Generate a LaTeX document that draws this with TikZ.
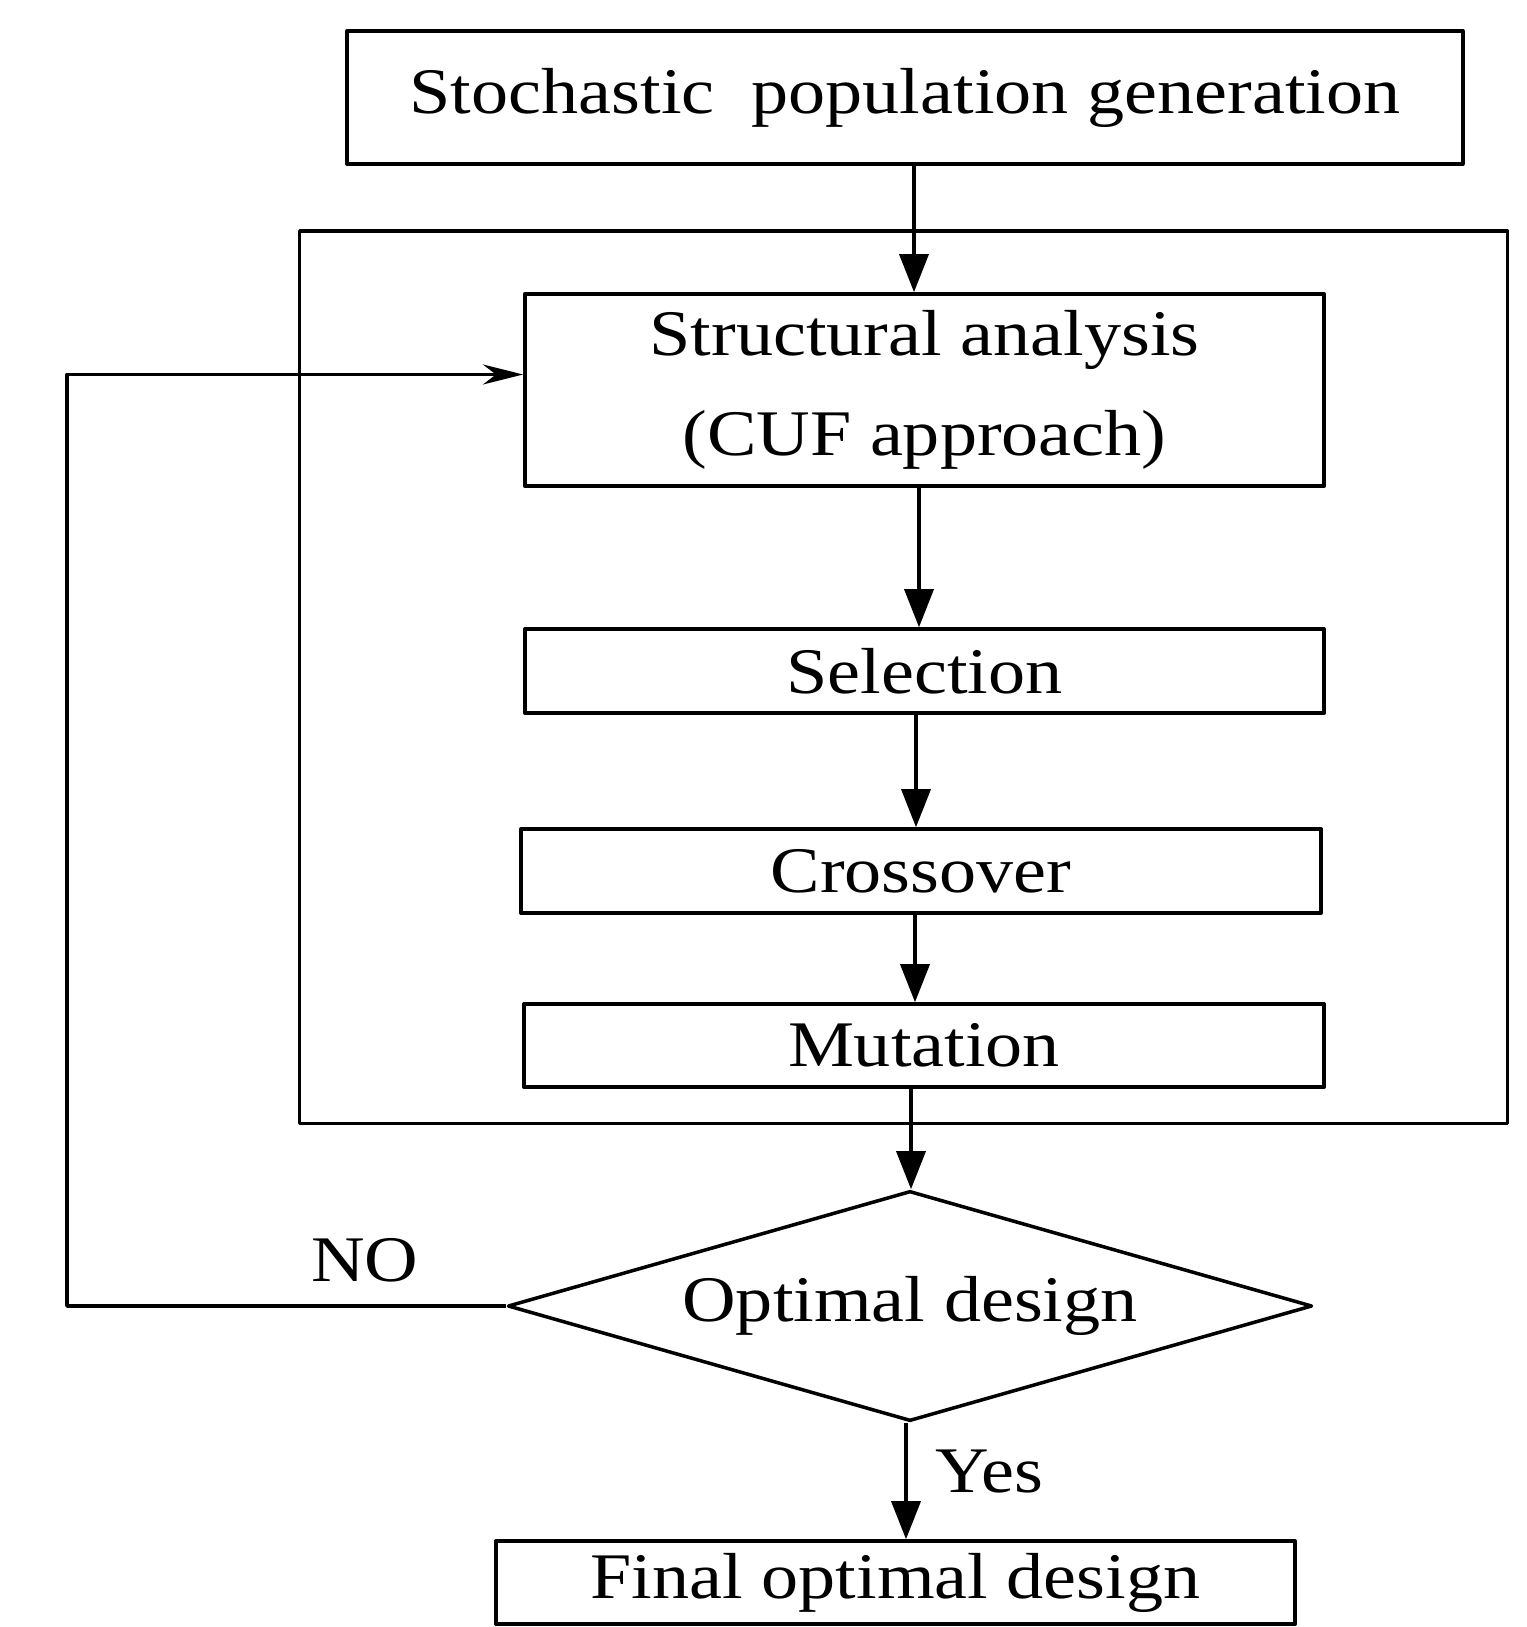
\documentclass[tikz,border=0pt]{standalone}
\usepackage{fontspec}
\setmainfont[FakeStretch=1.14]{Liberation Serif}
\usetikzlibrary{shapes.geometric,arrows.meta}

\begin{document}
\begin{tikzpicture}[x=0.01cm, y=-0.01cm, font=\fontsize{18.5}{28.5}\selectfont, line join=round, line width=1pt,
	box/.style={draw, rectangle, inner sep=0pt, minimum width=7.99cm, minimum height=0.84cm},
	arr/.style={-{Triangle[length=3.8mm,width=2.9mm]}},
	fbarr/.style={-{Stealth[length=4mm,width=2mm]}}]
	\useasboundingbox (0,0) rectangle (1526,1627);
	\path
	(903.5,677) node[box, minimum width=12.07cm, minimum height=8.92cm] (loop) {}
	(905,97.5) node[box, minimum width=11.15cm, minimum height=1.33cm] (gen) {Stochastic\ \ population generation}
	(924.5,390) node[box, minimum height=1.92cm, align=center] (ana) {Structural analysis\\(CUF approach)}
	(924.5,671) node[box] (sel) {Selection}
	(921,871) node[box, minimum width=8cm] (cro) {Crossover}
	(924,1045.5) node[box, minimum width=8cm, minimum height=0.83cm] (mut) {Mutation}
	(910,1306) node[draw, diamond, aspect=3.5, inner sep=0pt, minimum width=8.04cm, minimum height=2.3cm] (opt) {Optimal design}
	(895.5,1582.5) node[box, minimum height=0.83cm] (fin) {Final optimal design}
	(365,1260) node (no) {NO}
	(989,1471) node (yes) {Yes}
	(67,374.5) coordinate (back)
	;
	\foreach \a/\b/\x in {gen/ana/914,ana/sel/919,sel/cro/916,cro/mut/915,mut/opt/911,opt/fin/906}
	\draw[arr] (\a.south -| \x,0) -- (\b.north -| \x,0);
	\draw[fbarr] (opt.west) -| (back) -- (back -| ana.west);
\end{tikzpicture}
\end{document}
